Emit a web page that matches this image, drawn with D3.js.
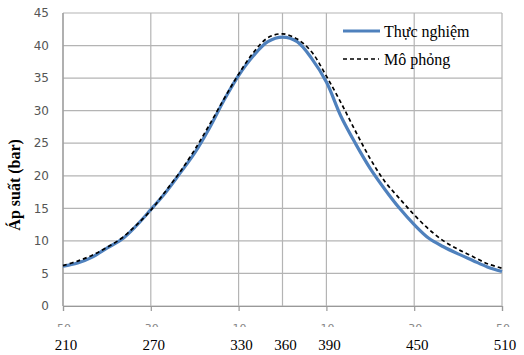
<!DOCTYPE html>
<html>
<head>
<meta charset="utf-8">
<script src="https://cdn.jsdelivr.net/npm/d3@7"></script>
<style>
  body { margin: 0; background: #fff; }
  svg { display: block; }
</style>
</head>
<body>
<div id="chart"></div>
<script>
// Crank angle (degrees) and pressure (bar)
const angle = [210, 220, 230, 240, 250, 260, 270, 280, 290, 300, 310, 320, 330, 340, 350, 360,
               370, 380, 390, 400, 410, 420, 430, 440, 450, 460, 470, 480, 490, 500, 510];
const thucNghiem = [6.1, 6.6, 7.5, 8.9, 10.2, 12.3, 14.8, 17.4, 20.4, 23.5, 27.3, 31.6, 35.4, 38.4, 40.6, 41.3,
                    40.6, 38.0, 34.4, 29.1, 24.9, 21.1, 17.9, 15.0, 12.5, 10.4, 9.1, 8.0, 7.0, 6.0, 5.3];
const moPhong = [6.2, 6.9, 7.8, 9.0, 10.4, 12.4, 14.7, 17.6, 20.6, 24.0, 27.8, 31.8, 35.6, 38.9, 41.2, 41.8,
                 41.0, 39.0, 35.3, 31.2, 26.8, 22.6, 19.1, 16.5, 14.0, 11.8, 10.0, 8.7, 7.6, 6.5, 5.8];
const xTicks = [210, 270, 330, 360, 390, 450, 510];
const oldTicks = [-50, -30, -10, 10, 30, 50];   // original axis labels, mostly hidden
const yTicks = [0, 5, 10, 15, 20, 25, 30, 35, 40, 45];

const W = 524, H = 355;
const margin = { top: 13, right: 22, bottom: 49, left: 63 };
const width = W - margin.left - margin.right,
      height = H - margin.top - margin.bottom;

const svg = d3.select("#chart").append("svg")
    .attr("width", W)
    .attr("height", H);

const g = svg.append("g")
    .attr("transform", `translate(${margin.left},${margin.top})`);

const x = d3.scaleLinear().domain([210, 510]).range([0, width]);
const y = d3.scaleLinear().domain([0, 45]).range([height, 0]);

const gridColor = "#b4b4b4";

// horizontal grid
g.append("g")
    .selectAll("line")
    .data(yTicks)
    .join("line")
    .attr("x1", 0).attr("x2", width)
    .attr("y1", d => y(d)).attr("y2", d => y(d))
    .attr("stroke", gridColor)
    .attr("stroke-width", 1.2);

// vertical grid
g.append("g")
    .selectAll("line")
    .data(xTicks)
    .join("line")
    .attr("x1", d => x(d)).attr("x2", d => x(d))
    .attr("y1", 0).attr("y2", height)
    .attr("stroke", gridColor)
    .attr("stroke-width", 1.2);

// left axis line
g.append("line")
    .attr("x1", 0).attr("x2", 0)
    .attr("y1", 0).attr("y2", height)
    .attr("stroke", "#999")
    .attr("stroke-width", 1.2);

// bottom axis
const xAxis = g.append("g")
    .attr("transform", `translate(0,${height})`)
    .call(d3.axisBottom(x)
        .tickValues(xTicks.filter(d => d !== 360))
        .tickSize(5)
        .tickFormat(""));
xAxis.select(".domain").attr("stroke", "#999").attr("stroke-width", 1.2);
xAxis.selectAll(".tick line").attr("stroke", "#999").attr("stroke-width", 1.2);

// y labels
g.append("g")
    .selectAll("text")
    .data(yTicks)
    .join("text")
    .attr("x", -14)
    .attr("y", d => y(d))
    .attr("dy", "0.35em")
    .attr("text-anchor", "end")
    .attr("font-family", "DejaVu Sans, Verdana, sans-serif")
    .attr("font-size", 12)
    .attr("fill", "#555")
    .text(d => d);

// original x labels, clipped so only their top shows
g.append("clipPath").attr("id", "oldClip")
    .append("rect")
    .attr("x", -margin.left).attr("y", height)
    .attr("width", W).attr("height", 314 - height);

const oldX = d3.scaleLinear().domain([-50, 50]).range([0, width]);
g.append("g")
    .attr("clip-path", "url(#oldClip)")
    .selectAll("text")
    .data(oldTicks)
    .join("text")
    .attr("x", d => oldX(d) + 1)
    .attr("y", height + 26)
    .attr("text-anchor", "middle")
    .attr("font-family", "DejaVu Sans, Verdana, sans-serif")
    .attr("font-size", 11)
    .attr("fill", "#888")
    .text(d => Math.abs(d));

// new x labels
g.append("g")
    .selectAll("text")
    .data(xTicks)
    .join("text")
    .attr("x", d => x(d) + 3)
    .attr("y", height + 44)
    .attr("text-anchor", "middle")
    .attr("font-family", "Liberation Serif, Times New Roman, serif")
    .attr("font-size", 15)
    .attr("fill", "#000")
    .text(d => d);

// y title
g.append("text")
    .attr("transform", `translate(-43,${y(18.6)}) rotate(-90)`)
    .attr("text-anchor", "middle")
    .attr("font-family", "Liberation Serif, Times New Roman, serif")
    .attr("font-weight", "bold")
    .attr("font-size", 16)
    .attr("fill", "#000")
    .text("Áp suất (bar)");

// lines
const line = vals => d3.line()
    .x((d, i) => x(angle[i]))
    .y(d => y(d))
    .curve(d3.curveCatmullRom)(vals);

g.append("path")
    .attr("d", line(thucNghiem))
    .attr("fill", "none")
    .attr("stroke", "#4f81bd")
    .attr("stroke-width", 3.2)
    .attr("stroke-linejoin", "round");

g.append("path")
    .attr("d", line(moPhong))
    .attr("fill", "none")
    .attr("stroke", "#000")
    .attr("stroke-width", 1.7)
    .attr("stroke-dasharray", "4,3");

// legend
const legend = g.append("g")
    .attr("transform", "translate(280,18)");

legend.append("line")
    .attr("x1", 0).attr("x2", 37)
    .attr("y1", 0).attr("y2", 0)
    .attr("stroke", "#4f81bd")
    .attr("stroke-width", 3);

legend.append("text")
    .attr("x", 41).attr("y", 6)
    .attr("font-family", "Liberation Serif, Times New Roman, serif")
    .attr("font-size", 16)
    .text("Thực nghiệm");

legend.append("line")
    .attr("x1", 0).attr("x2", 36)
    .attr("y1", 28).attr("y2", 28)
    .attr("stroke", "#000")
    .attr("stroke-width", 1.7)
    .attr("stroke-dasharray", "4,3");

legend.append("text")
    .attr("x", 41).attr("y", 34)
    .attr("font-family", "Liberation Serif, Times New Roman, serif")
    .attr("font-size", 16)
    .text("Mô phỏng");
</script>
</body>
</html>
